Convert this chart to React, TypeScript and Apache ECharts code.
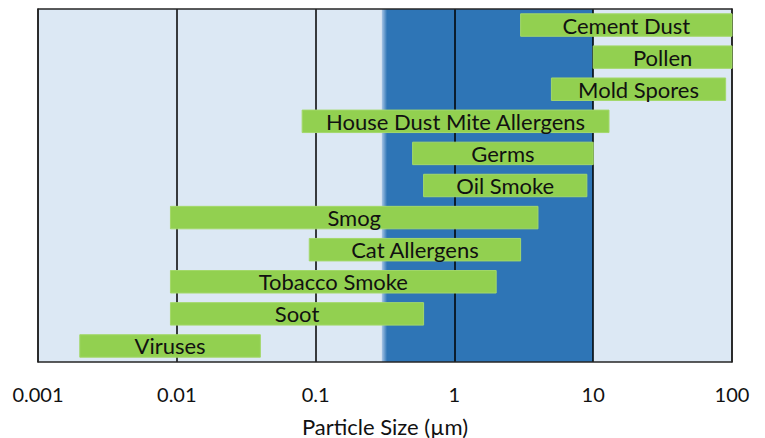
import React, { useEffect, useRef } from "react";
import * as echarts from "echarts";

const categories = [
  "Cement Dust",
  "Pollen",
  "Mold Spores",
  "House Dust Mite Allergens",
  "Germs",
  "Oil Smoke",
  "Smog",
  "Cat Allergens",
  "Tobacco Smoke",
  "Soot",
  "Viruses",
];
const sizeMin = [3, 10, 5, 0.08, 0.5, 0.6, 0.009, 0.09, 0.009, 0.009, 0.002];
const sizeMax = [100, 100, 90, 13, 10, 9, 4, 3, 2, 0.6, 0.04];
const bandRange = [0.3, 10];
const axisMin = 0.001;
const axisMax = 100;
const axisTitle = "Particle Size (µm)";

const FONT = "Lato, 'Noto Sans', sans-serif";

export default function App() {
  const ref = useRef<HTMLDivElement>(null);
  useEffect(() => {
    if (!ref.current) return;
    const chart = echarts.init(ref.current, undefined, { renderer: "svg" });
    const barData = categories.map((_, i) => [i, sizeMin[i], sizeMax[i]]);
    const option: any = {
      animation: false,
      backgroundColor: "#ffffff",
      grid: {
        left: 38,
        right: 33,
        top: 9,
        bottom: 76,
        show: true,
        containLabel: false,
        outerBoundsMode: "none",
        backgroundColor: "#dce8f4",
        borderWidth: 0,
        z: 0,
      },
      xAxis: [
        {
          type: "log",
          logBase: 10,
          min: axisMin,
          max: axisMax,
          position: "bottom",
          z: 2,
          axisLine: { show: true, onZero: false, lineStyle: { color: "#262626", width: 1.5 } },
          axisTick: { show: false },
          splitLine: { show: true, lineStyle: { color: "#000", width: 1.5 } },
          axisLabel: {
            color: "#111",
            fontFamily: FONT,
            fontSize: 20,
            margin: 22,
            formatter: (v: number) => String(v),
          },
          name: axisTitle,
          nameLocation: "middle",
          nameGap: 53,
          nameTextStyle: { color: "#111", fontFamily: FONT, fontSize: 22 },
        },
        {
          type: "log",
          logBase: 10,
          min: axisMin,
          max: axisMax,
          position: "top",
          z: 2,
          axisLine: { show: true, onZero: false, lineStyle: { color: "#262626", width: 1.5 } },
          axisTick: { show: false },
          splitLine: { show: false },
          axisLabel: { show: false },
        },
      ],
      yAxis: [
        {
          type: "category",
          data: categories,
          inverse: true,
          position: "left",
          z: 2,
          axisLine: { show: true, onZero: false, lineStyle: { color: "#262626", width: 1.5 } },
          axisTick: { show: false },
          axisLabel: { show: false },
          splitLine: { show: false },
        },
        {
          type: "category",
          data: categories,
          inverse: true,
          position: "right",
          z: 2,
          axisLine: { show: true, onZero: false, lineStyle: { color: "#262626", width: 1.5 } },
          axisTick: { show: false },
          axisLabel: { show: false },
          splitLine: { show: false },
        },
      ],
      series: [
        {
          type: "custom",
          z: 1,
          silent: true,
          xAxisIndex: 0,
          yAxisIndex: 0,
          data: [[bandRange[0], bandRange[1], 0]],
          encode: { x: [0, 1], y: 2 },
          renderItem: (params: any, api: any) => {
            const s = api.coord([api.value(0), 0]);
            const e = api.coord([api.value(1), 0]);
            const cs = params.coordSys;
            return {
              type: "rect",
              shape: { x: s[0], y: cs.y, width: e[0] - s[0], height: cs.height },
              style: {
                fill: new echarts.graphic.LinearGradient(0, 0, 1, 0, [
                  { offset: 0, color: "#a9c6e6" },
                  { offset: 0.025, color: "#2e75b6" },
                  { offset: 1, color: "#2e75b6" },
                ]),
              },
            };
          },
        },
        {
          type: "custom",
          z: 3,
          xAxisIndex: 0,
          yAxisIndex: 0,
          data: barData,
          encode: { x: [1, 2], y: 0 },
          renderItem: (params: any, api: any) => {
            const idx = api.value(0);
            const s = api.coord([api.value(1), idx]);
            const e = api.coord([api.value(2), idx]);
            const h = api.size([1, 1])[1] * 0.7;
            return {
              type: "rect",
              shape: { x: s[0], y: s[1] - h / 2, width: e[0] - s[0], height: h },
              style: { fill: "#92d050", stroke: "#a3d86a", lineWidth: 1 },
              textContent: {
                type: "text",
                style: {
                  text: categories[idx],
                  fill: "#111",
                  fontFamily: FONT,
                  fontSize: 22,
                },
              },
              textConfig: { position: "inside" },
            };
          },
        },
      ],
    };
    chart.setOption(option);
    return () => chart.dispose();
  }, []);
  return (
    <div
      ref={ref}
      style={{ position: "absolute", left: 0, top: 0, width: 765, height: 438 }}
    />
  );
}
